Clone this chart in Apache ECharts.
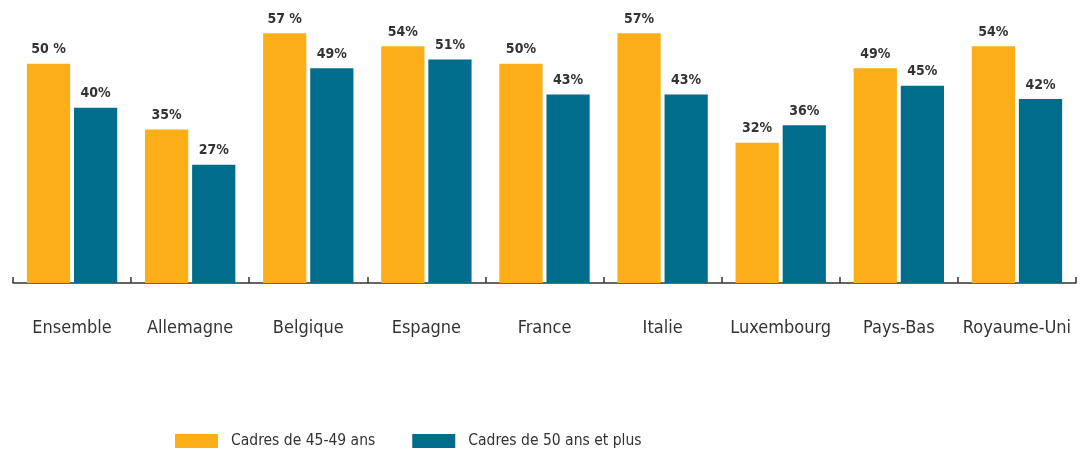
<!DOCTYPE html>
<html style="height: 100%">
<head>
<meta charset="utf-8">
<title>Cadres par pays</title>
<script type="text/javascript" src="https://cdn.jsdelivr.net/npm/echarts@6/dist/echarts.min.js"></script>
</head>
<body style="height: 100%; margin: 0; padding: 0; background: #fff;">
<div id="container" style="width: 1081px; height: 450px;"></div>
<script type="text/javascript">
var categories = ['Ensemble', 'Allemagne', 'Belgique', 'Espagne', 'France', 'Italie', 'Luxembourg', 'Pays-Bas', 'Royaume-Uni'];
var seriesNames = ['Cadres de 45-49 ans', 'Cadres de 50 ans et plus'];
var values4549 = [50, 35, 57, 54, 50, 57, 32, 49, 54];
var values50plus = [40, 27, 49, 51, 43, 43, 36, 45, 42];
// textes des étiquettes tels qu'imprimés (certains avec espace)
var labels4549 = ['50 %', '35%', '57 %', '54%', '50%', '57%', '32%', '49%', '54%'];
var labels50plus = ['40%', '27%', '49%', '51%', '43%', '43%', '36%', '45%', '42%'];

var myChart = echarts.init(document.getElementById('container'));
var font = 'DejaVu Sans Condensed';

function makeSeries(name, data, labels, color) {
    return {
        name: name,
        type: 'bar',
        data: data,
        barWidth: '36.6%',
        barGap: '9%',
        itemStyle: { color: color },
        label: {
            show: true,
            position: 'top',
            distance: 7,
            fontFamily: font,
            fontWeight: 'bold',
            fontSize: 14,
            color: '#333333',
            formatter: function (p) { return labels[p.dataIndex]; }
        }
    };
}

var option = {
    animation: false,
    grid: { left: 13, right: 5, top: 20, bottom: 167 },
    legend: {
        left: 170,
        top: 428,
        icon: 'rect',
        itemWidth: 43,
        itemHeight: 14,
        itemGap: 37,
        textStyle: { fontFamily: font, fontSize: 15.5, color: '#333333', padding: [0, 0, 0, 8] },
        data: seriesNames
    },
    xAxis: {
        type: 'category',
        data: categories,
        axisLine: { lineStyle: { color: '#333333', width: 1.5 } },
        axisTick: { show: true, inside: true, length: 6, lineStyle: { color: '#333333', width: 1.5 } },
        axisLabel: { margin: 36, fontFamily: font, fontSize: 18, color: '#333333', interval: 0 }
    },
    yAxis: {
        type: 'value',
        min: 0,
        max: 60,
        show: false,
        splitLine: { show: false }
    },
    series: [
        makeSeries(seriesNames[0], values4549, labels4549, '#FBAE17'),
        makeSeries(seriesNames[1], values50plus, labels50plus, '#006D8C')
    ]
};
myChart.setOption(option);
</script>
</body>
</html>
